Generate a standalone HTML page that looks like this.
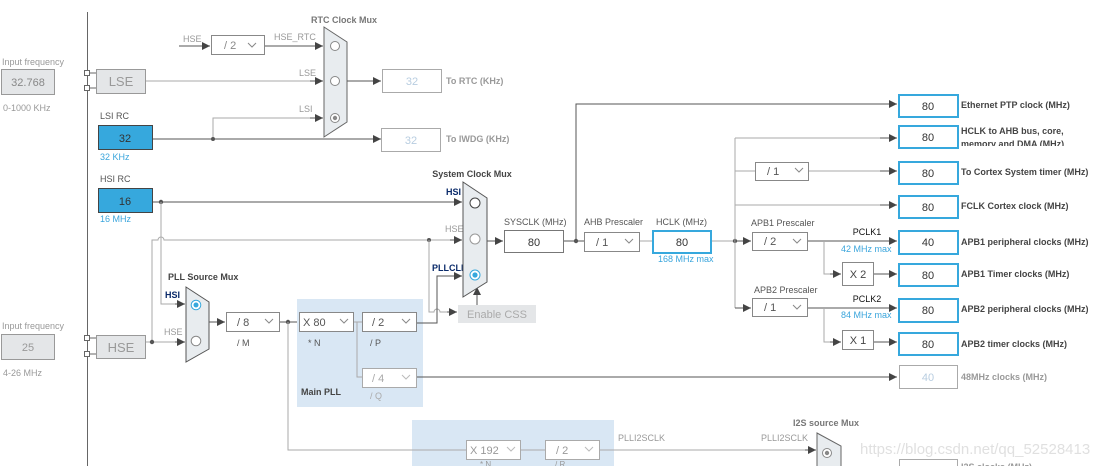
<!DOCTYPE html>
<html><head><meta charset="utf-8"><style>
html,body{margin:0;padding:0;background:#fff;}
svg{display:block;font-family:"Liberation Sans",Arial,sans-serif;}
.t{font-size:9px;fill:#555;}
.g{font-size:9px;fill:#999;}
.b{font-size:9px;font-weight:bold;fill:#444;}
.bl{font-size:9px;fill:#3aa5dc;}
.n{font-size:11px;fill:#333;text-anchor:middle;}
.ln{stroke:#555;stroke-width:1;fill:none;}
.lg{stroke:#aaa;stroke-width:1;fill:none;}
.box{fill:#fff;stroke:#888;stroke-width:1;}
.bb{fill:#fff;stroke:#36a8dd;stroke-width:2;}
.bbf{fill:#36a8dd;stroke:#444;stroke-width:1;}
.gb{fill:#e4e6e8;stroke:#999;stroke-width:1;}
.mux{fill:#e8ecef;stroke:#555;stroke-width:1;}
.chev{stroke:#888;fill:none;stroke-width:1;}
</style></head><body>
<svg width="1112" height="466" viewBox="0 0 1112 466" xmlns="http://www.w3.org/2000/svg">
<defs>
<marker id="a" viewBox="0 0 10 10" refX="10" refY="5" markerWidth="9" markerHeight="8" markerUnits="userSpaceOnUse" orient="auto"><path d="M0,0 L10,5 L0,10 z" fill="#444"/></marker>
</defs>

<!-- left vertical -->
<line x1="87.5" y1="12" x2="87.5" y2="466" stroke="#666"/>

<!-- Input LSE -->
<text class="g" x="2" y="65">Input frequency</text>
<rect class="gb" x="1.5" y="69.5" width="53" height="25"/>
<text class="n" x="28" y="86" fill="#888" style="fill:#888">32.768</text>
<text class="g" x="3" y="111">0-1000 KHz</text>
<rect x="84.5" y="70.5" width="5" height="5" fill="#fff" stroke="#666"/>
<rect x="84.5" y="85.5" width="5" height="5" fill="#fff" stroke="#666"/>
<line x1="90" y1="73" x2="96" y2="73" stroke="#666"/><line x1="90" y1="88" x2="96" y2="88" stroke="#666"/>
<rect class="gb" x="96.5" y="69.5" width="49" height="24"/>
<text x="121" y="86" style="font-size:13px;fill:#999;text-anchor:middle">LSE</text>

<!-- RTC mux -->
<text class="b" x="344" y="23" text-anchor="middle" style="fill:#777">RTC Clock Mux</text>
<text class="g" x="183" y="42">HSE</text>
<line class="ln" x1="179" y1="46" x2="210" y2="46" marker-end="url(#a)"/>
<rect class="box" x="211.5" y="35.5" width="53" height="19"/>
<text x="224" y="49" style="font-size:11px;fill:#888">/ 2</text>
<path class="chev" d="M248,43 l4,4 l4,-4"/>
<text class="g" x="274" y="40">HSE_RTC</text>
<line class="ln" x1="265" y1="46" x2="323" y2="46" marker-end="url(#a)"/>
<text class="g" x="299" y="76">LSE</text>
<line class="lg" x1="146" y1="81" x2="323" y2="81"/>
<line class="ln" x1="310" y1="81" x2="323" y2="81" marker-end="url(#a)"/>
<text class="g" x="299" y="112">LSI</text>
<polyline class="lg" points="213,139 213,118 323,118"/>
<line class="ln" x1="310" y1="118" x2="323" y2="118" marker-end="url(#a)"/>
<path class="mux" d="M324,27 L347,42 L347,122 L324,137 Z" style="stroke:#666"/>
<circle cx="335" cy="46" r="4.5" fill="#fff" stroke="#888"/>
<circle cx="335" cy="81" r="4.5" fill="#fff" stroke="#888"/>
<circle cx="335" cy="118" r="4.5" fill="#fff" stroke="#888"/><circle cx="335" cy="118" r="2.2" fill="#888"/>
<line class="ln" x1="347" y1="81" x2="381" y2="81" marker-end="url(#a)"/>
<rect class="box" x="382.5" y="69.5" width="59" height="23" style="stroke:#aaa"/>
<text class="n" x="412" y="85" style="fill:#b8cde0">32</text>
<text class="b" x="446" y="84" style="fill:#999">To RTC (KHz)</text>

<!-- LSI -->
<text class="t" x="100" y="119">LSI RC</text>
<rect class="bbf" x="98.5" y="125.5" width="54" height="24"/>
<text class="n" x="125" y="142">32</text>
<text class="bl" x="100" y="160">32 KHz</text>
<line class="ln" x1="153" y1="139" x2="381" y2="139" marker-end="url(#a)"/>
<circle cx="213" cy="139" r="2" fill="#555"/>
<rect class="box" x="381.5" y="128.5" width="59" height="23" style="stroke:#aaa"/>
<text class="n" x="411" y="144" style="fill:#b8cde0">32</text>
<text class="b" x="446" y="142" style="fill:#999">To IWDG (KHz)</text>

<!-- HSI -->
<text class="t" x="100" y="182">HSI RC</text>
<rect class="bbf" x="98.5" y="188.5" width="54" height="24"/>
<text class="n" x="125" y="205">16</text>
<text class="bl" x="100" y="222">16 MHz</text>
<line class="ln" x1="153" y1="202" x2="462" y2="202" marker-end="url(#a)"/>
<circle cx="161" cy="202" r="2.2" fill="#555"/>
<path class="lg" d="M161,202 L161,304 L185,304" />
<line class="ln" x1="175" y1="304" x2="185" y2="304" marker-end="url(#a)"/>

<!-- HSE line -->
<path class="lg" d="M152,342 L152,240 L158,240 a3,3 0 0 1 6,0 L462,240"/>
<line class="ln" x1="450" y1="240" x2="462" y2="240" marker-end="url(#a)"/>
<circle cx="429" cy="240" r="2" fill="#555"/>
<path class="lg" d="M429,240 L429,312 L434,312 a3,3 0 0 1 6,0 L457,312"/>
<line class="ln" x1="447" y1="312" x2="457" y2="312" marker-end="url(#a)"/>

<!-- Input HSE -->
<text class="g" x="2" y="329">Input frequency</text>
<rect class="gb" x="1.5" y="334.5" width="53" height="25"/>
<text x="28" y="351" style="font-size:11px;fill:#999;text-anchor:middle">25</text>
<text class="g" x="3" y="376">4-26 MHz</text>
<rect x="84.5" y="335.5" width="5" height="5" fill="#fff" stroke="#666"/>
<rect x="84.5" y="351.5" width="5" height="5" fill="#fff" stroke="#666"/>
<line x1="90" y1="338" x2="96" y2="338" stroke="#666"/><line x1="90" y1="354" x2="96" y2="354" stroke="#666"/>
<rect class="gb" x="96.5" y="335.5" width="49" height="23"/>
<text x="121" y="352" style="font-size:13px;fill:#999;text-anchor:middle">HSE</text>
<line class="lg" x1="146" y1="342" x2="185" y2="342"/>
<line class="ln" x1="175" y1="342" x2="185" y2="342" marker-end="url(#a)"/>
<circle cx="152" cy="342" r="2.2" fill="#555"/>

<!-- PLL source mux -->
<text class="b" x="168" y="280">PLL Source Mux</text>
<text x="165" y="298" style="font-size:9px;font-weight:bold;fill:#0a2a6a">HSI</text>
<text class="g" x="164" y="335">HSE</text>
<path class="mux" d="M186,287 L209,302 L209,349 L186,362 Z"/>
<circle cx="196" cy="305" r="4.8" fill="#fff" stroke="#36a8dd"/><circle cx="196" cy="305" r="2.5" fill="#36a8dd"/>
<circle cx="196" cy="341" r="4.8" fill="#fff" stroke="#888"/>
<line class="ln" x1="209" y1="322" x2="225" y2="322" marker-end="url(#a)"/>
<rect class="box" x="226.5" y="312.5" width="53" height="19"/>
<text x="237" y="326" style="font-size:11px;fill:#555">/ 8</text>
<path class="chev" d="M265,319 l4,4 l4,-4"/>
<text class="t" x="237" y="346">/ M</text>
<line class="ln" x1="280" y1="322" x2="299" y2="322"/>
<circle cx="288" cy="322" r="2.2" fill="#555"/>
<polyline class="lg" points="288,322 288,450 412,450"/>

<!-- Main PLL -->
<rect x="297" y="299" width="126" height="108" fill="#d9e7f4"/>
<rect class="box" x="299.5" y="312.5" width="54" height="19"/>
<text x="303" y="326" style="font-size:11px;fill:#555">X 80</text>
<path class="chev" d="M340,319 l4,4 l4,-4"/>
<text class="t" x="308" y="346">* N</text>
<polyline class="lg" points="354,322 362,322"/>
<polyline class="lg" points="357,322 357,377 362,377"/>
<rect class="box" x="362.5" y="312.5" width="54" height="19"/>
<text x="372" y="326" style="font-size:11px;fill:#555">/ 2</text>
<path class="chev" d="M402,319 l4,4 l4,-4"/>
<text class="t" x="370" y="346">/ P</text>
<rect class="box" x="362.5" y="368.5" width="54" height="19" style="stroke:#aaa"/>
<text x="372" y="382" style="font-size:11px;fill:#aaa">/ 4</text>
<path class="chev" d="M402,375 l4,4 l4,-4" style="stroke:#bbb"/>
<text class="g" x="370" y="399" style="fill:#aaa">/ Q</text>
<text class="b" x="301" y="395">Main PLL</text>

<!-- PLLCLK path -->
<polyline class="ln" points="417,323 437,323 437,276 462,276" marker-end="url(#a)"/>
<line class="ln" x1="417" y1="377" x2="897" y2="377" marker-end="url(#a)"/>
<rect class="box" x="899.5" y="365.5" width="58" height="23" style="stroke:#aaa"/>
<text class="n" x="928" y="381" style="fill:#b8cde0">40</text>
<text class="b" x="961" y="380" style="fill:#999">48MHz clocks (MHz)</text>

<!-- Enable CSS -->
<rect x="458" y="305" width="78" height="18" fill="#e4e6e8"/>
<text x="497" y="318" style="font-size:11px;fill:#aaa;text-anchor:middle">Enable CSS</text>
<line class="ln" x1="477" y1="305" x2="477" y2="287" marker-end="url(#a)"/>

<!-- System mux -->
<text class="b" x="472" y="177" text-anchor="middle">System Clock Mux</text>
<text x="446" y="195" style="font-size:9px;font-weight:bold;fill:#0a2a6a">HSI</text>
<text class="g" x="445" y="232">HSE</text>
<text x="432" y="271" style="font-size:9px;font-weight:bold;fill:#0a2a6a">PLLCLK</text>
<path class="mux" d="M463,182 L487,198 L487,282 L463,297 Z"/>
<circle cx="475" cy="203" r="5" fill="#fff" stroke="#444"/>
<circle cx="475" cy="239" r="5" fill="#fff" stroke="#999"/>
<circle cx="475" cy="275" r="5" fill="#fff" stroke="#36a8dd"/><circle cx="475" cy="275" r="2.6" fill="#36a8dd"/>
<line class="ln" x1="487" y1="241" x2="503" y2="241" marker-end="url(#a)"/>
<text class="t" x="504" y="225">SYSCLK (MHz)</text>
<rect class="box" x="504.5" y="230.5" width="59" height="22" style="stroke:#777"/>
<text class="n" x="534" y="246">80</text>
<line class="ln" x1="564" y1="241" x2="584" y2="241"/>
<circle cx="576" cy="241" r="2.2" fill="#555"/>
<polyline class="ln" points="576,241 576,104 897,104" marker-end="url(#a)"/>

<!-- AHB -->
<text class="t" x="584" y="225">AHB Prescaler</text>
<rect class="box" x="584.5" y="232.5" width="55" height="19"/>
<text x="596" y="246" style="font-size:11px;fill:#555">/ 1</text>
<path class="chev" d="M625,239 l4,4 l4,-4"/>
<line class="lg" x1="640" y1="241" x2="652" y2="241"/>
<text class="t" x="656" y="225">HCLK (MHz)</text>
<rect class="bb" x="653" y="231" width="58" height="22"/>
<text class="n" x="682" y="246">80</text>
<text class="bl" x="658" y="262">168 MHz max</text>
<line class="lg" x1="712" y1="241" x2="735" y2="241"/>
<circle cx="735" cy="241" r="2.2" fill="#555"/>
<line class="lg" x1="735" y1="138" x2="735" y2="308"/>
<line class="lg" x1="735" y1="138" x2="897" y2="138"/><line class="ln" x1="880" y1="138" x2="897" y2="138" marker-end="url(#a)"/>
<line class="lg" x1="735" y1="171" x2="755" y2="171"/>
<rect class="box" x="755.5" y="162.5" width="53" height="18"/>
<text x="767" y="175" style="font-size:11px;fill:#555">/ 1</text>
<path class="chev" d="M795,168 l4,4 l4,-4"/>
<line class="lg" x1="809" y1="171" x2="897" y2="171"/><line class="ln" x1="880" y1="171" x2="897" y2="171" marker-end="url(#a)"/>
<line class="lg" x1="735" y1="205" x2="897" y2="205"/><line class="ln" x1="880" y1="205" x2="897" y2="205" marker-end="url(#a)"/>
<line class="ln" x1="735" y1="241" x2="751" y2="241" marker-end="url(#a)"/>
<line class="ln" x1="735" y1="308" x2="751" y2="308" marker-end="url(#a)"/>

<!-- APB1 -->
<text class="t" x="751" y="226">APB1 Prescaler</text>
<rect class="box" x="752.5" y="232.5" width="55" height="18"/>
<text x="764" y="245" style="font-size:11px;fill:#555">/ 2</text>
<path class="chev" d="M793,239 l4,4 l4,-4"/>
<line class="ln" x1="808" y1="241" x2="897" y2="241" marker-end="url(#a)"/>
<text class="t" x="867" y="235" text-anchor="middle" style="fill:#111">PCLK1</text>
<text class="bl" x="841" y="252">42 MHz max</text>
<polyline class="lg" points="824,241 824,274 841,274"/><line class="ln" x1="830" y1="274" x2="841" y2="274" marker-end="url(#a)"/>
<rect class="box" x="842.5" y="262.5" width="31" height="23"/>
<text x="858" y="278" style="font-size:11px;fill:#444;text-anchor:middle">X 2</text>
<line class="ln" x1="874" y1="274" x2="897" y2="274" marker-end="url(#a)"/>

<!-- APB2 -->
<text class="t" x="754" y="293">APB2 Prescaler</text>
<rect class="box" x="752.5" y="298.5" width="55" height="18"/>
<text x="764" y="311" style="font-size:11px;fill:#555">/ 1</text>
<path class="chev" d="M793,305 l4,4 l4,-4"/>
<line class="ln" x1="808" y1="308" x2="897" y2="308" marker-end="url(#a)"/>
<text class="t" x="867" y="302" text-anchor="middle" style="fill:#111">PCLK2</text>
<text class="bl" x="841" y="318">84 MHz max</text>
<polyline class="lg" points="824,308 824,342 841,342"/><line class="ln" x1="830" y1="342" x2="841" y2="342" marker-end="url(#a)"/>
<rect class="box" x="842.5" y="330.5" width="31" height="19"/>
<text x="858" y="344" style="font-size:11px;fill:#444;text-anchor:middle">X 1</text>
<line class="ln" x1="874" y1="342" x2="897" y2="342" marker-end="url(#a)"/>

<!-- outputs -->
<g>
<rect class="bb" x="899" y="95" width="59" height="22"/><text class="n" x="928" y="110">80</text>
<rect class="bb" x="899" y="126" width="59" height="22"/><text class="n" x="928" y="141">80</text>
<rect class="bb" x="899" y="162" width="59" height="22"/><text class="n" x="928" y="177">80</text>
<rect class="bb" x="899" y="196" width="59" height="22"/><text class="n" x="928" y="211">80</text>
<rect class="bb" x="899" y="231" width="59" height="23"/><text class="n" x="928" y="246">40</text>
<rect class="bb" x="899" y="264" width="59" height="22"/><text class="n" x="928" y="279">80</text>
<rect class="bb" x="899" y="299" width="59" height="23"/><text class="n" x="928" y="314">80</text>
<rect class="bb" x="899" y="333" width="59" height="22"/><text class="n" x="928" y="348">80</text>
</g>
<text class="b" x="961" y="108">Ethernet PTP clock (MHz)</text>
<text class="b" x="961" y="134">HCLK to AHB bus, core,</text>
<svg x="955" y="138" width="150" height="8" overflow="hidden"><text class="b" x="6" y="9">memory and DMA (MHz)</text></svg>
<text class="b" x="961" y="175">To Cortex System timer (MHz)</text>
<text class="b" x="961" y="209">FCLK Cortex clock (MHz)</text>
<text class="b" x="961" y="245">APB1 peripheral clocks (MHz)</text>
<text class="b" x="961" y="277">APB1 Timer clocks (MHz)</text>
<text class="b" x="961" y="312">APB2 peripheral clocks (MHz)</text>
<text class="b" x="961" y="347">APB2 timer clocks (MHz)</text>

<!-- PLLI2S -->
<rect x="412" y="420" width="202" height="46" fill="#d9e7f4"/>
<line class="lg" x1="412" y1="450" x2="466" y2="450"/>
<rect class="box" x="466.5" y="440.5" width="54" height="19" style="stroke:#aaa"/>
<text x="470" y="454" style="font-size:11px;fill:#999">X 192</text>
<path class="chev" d="M507,447 l4,4 l4,-4" style="stroke:#bbb"/>
<line class="lg" x1="521" y1="450" x2="545" y2="450"/>
<rect class="box" x="545.5" y="440.5" width="54" height="19" style="stroke:#aaa"/>
<text x="556" y="454" style="font-size:11px;fill:#999">/ 2</text>
<path class="chev" d="M585,447 l4,4 l4,-4" style="stroke:#bbb"/>
<text class="g" x="480" y="467" style="font-size:8px">* N</text>
<text class="g" x="555" y="467" style="font-size:8px">/ R</text>
<text class="g" x="618" y="441">PLLI2SCLK</text>
<text class="g" x="761" y="441">PLLI2SCLK</text>
<line class="lg" x1="600" y1="450" x2="816" y2="450"/><line class="ln" x1="805" y1="450" x2="816" y2="450" marker-end="url(#a)"/>
<text class="b" x="793" y="426" style="fill:#777">I2S source Mux</text>
<path class="mux" d="M817,433 L841,446 L841,470 L817,470 Z" style="stroke:#666"/>
<circle cx="827" cy="453" r="4.5" fill="#fff" stroke="#888"/><circle cx="827" cy="453" r="2.2" fill="#888"/>
<rect class="box" x="899.5" y="459.5" width="58" height="10" style="stroke:#aaa"/>
<text class="b" x="961" y="470" style="fill:#999">I2S clocks (MHz)</text>
<text x="860" y="454" style="font-size:15px;fill:#e0e0e0">https://blog.csdn.net/qq_52528413</text>
</svg>
</body></html>
